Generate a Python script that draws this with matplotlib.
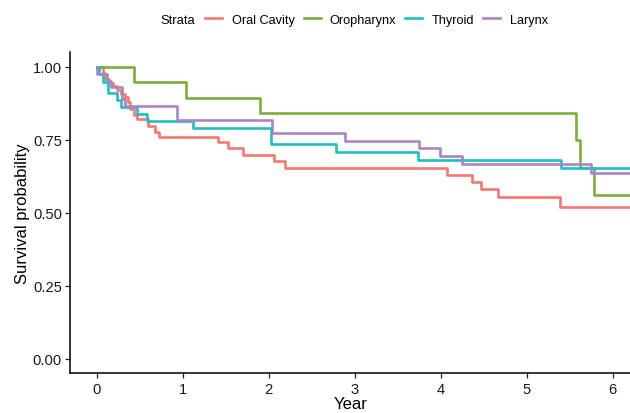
import matplotlib
matplotlib.use('Agg')
import matplotlib.pyplot as plt
from matplotlib.lines import Line2D

plt.rcParams['font.family'] = ['Liberation Sans', 'DejaVu Sans']

# Kaplan-Meier step points (year, survival)
strata = ['Oral Cavity', 'Oropharynx', 'Thyroid', 'Larynx']
colors = ['#F8766D', '#7CAE3A', '#1FBFC4', '#A985C6']

oral_time = [0, 0.07, 0.10, 0.15, 0.195, 0.24, 0.29, 0.33, 0.37, 0.39, 0.44, 0.47, 0.60, 0.68, 0.73,
             1.41, 1.53, 1.70, 2.06, 2.19, 4.07, 4.37, 4.47, 4.67, 5.39, 6.4]
oral_surv = [1.0, 0.978, 0.958, 0.946, 0.934, 0.922, 0.908, 0.896, 0.879, 0.855, 0.835, 0.82, 0.797, 0.778, 0.759,
             0.741, 0.721, 0.699, 0.676, 0.654, 0.630, 0.607, 0.582, 0.555, 0.521, 0.521]

oro_time = [0, 0.43, 1.04, 1.90, 5.57, 5.62, 5.78, 6.4]
oro_surv = [1.0, 0.947, 0.895, 0.842, 0.749, 0.655, 0.562, 0.562]

thy_time = [0, 0.03, 0.08, 0.13, 0.235, 0.29, 0.47, 0.59, 1.12, 2.03, 2.79, 3.74, 5.40, 6.4]
thy_surv = [1.0, 0.974, 0.947, 0.910, 0.885, 0.862, 0.839, 0.816, 0.789, 0.736, 0.709, 0.680, 0.654, 0.654]

lar_time = [0, 0.01, 0.12, 0.17, 0.30, 0.33, 0.93, 2.04, 2.89, 3.75, 3.99, 4.25, 5.75, 6.4]
lar_surv = [1.0, 0.975, 0.952, 0.930, 0.889, 0.865, 0.818, 0.774, 0.747, 0.721, 0.693, 0.666, 0.635, 0.635]

times = [oral_time, oro_time, thy_time, lar_time]
survs = [oral_surv, oro_surv, thy_surv, lar_surv]

y_ticks = [0.0, 0.25, 0.50, 0.75, 1.00]
x_ticks = [0, 1, 2, 3, 4, 5, 6]

fig = plt.figure(figsize=(6.3, 4.14), dpi=100)
ax = fig.add_axes([70.3 / 630, 39.7 / 414, (630 - 70.3) / 630, 321 / 414])

for t, s, c in zip(times, survs, colors):
    ax.step(t, s, where='post', color=c, linewidth=1.9)

ax.set_xlim(-0.305, 6.203)
ax.set_ylim(-0.05, 1.05)
ax.set_xticks(x_ticks)
ax.set_yticks(y_ticks)
ax.set_yticklabels(['%.2f' % v for v in y_ticks])
ax.tick_params(labelsize=10.6, length=3.5, width=0.9, color='#222222', labelcolor='#1a1a1a', pad=2.5)
for side in ['top', 'right']:
    ax.spines[side].set_visible(False)
for side in ['left', 'bottom']:
    ax.spines[side].set_linewidth(1.1)
ax.set_xlabel('Year', fontsize=12, labelpad=0)
ax.set_ylabel('Survival probability', fontsize=12, labelpad=2)

# legend on top, ggplot style with title to the left
handles = [Line2D([], [], color=c, linewidth=1.9) for c in colors]
fig.legend(handles, strata, loc='center', bbox_to_anchor=(376.5 / 630, 1 - 20.7 / 414), ncol=4,
           frameon=False, fontsize=9.2, handlelength=1.33, handletextpad=0.72, columnspacing=0.72,
           borderpad=0, borderaxespad=0)
fig.text(160 / 630, 1 - 20.7 / 414, 'Strata', fontsize=9.4, va='center', ha='left')

fig.savefig('out.png', dpi=100)
